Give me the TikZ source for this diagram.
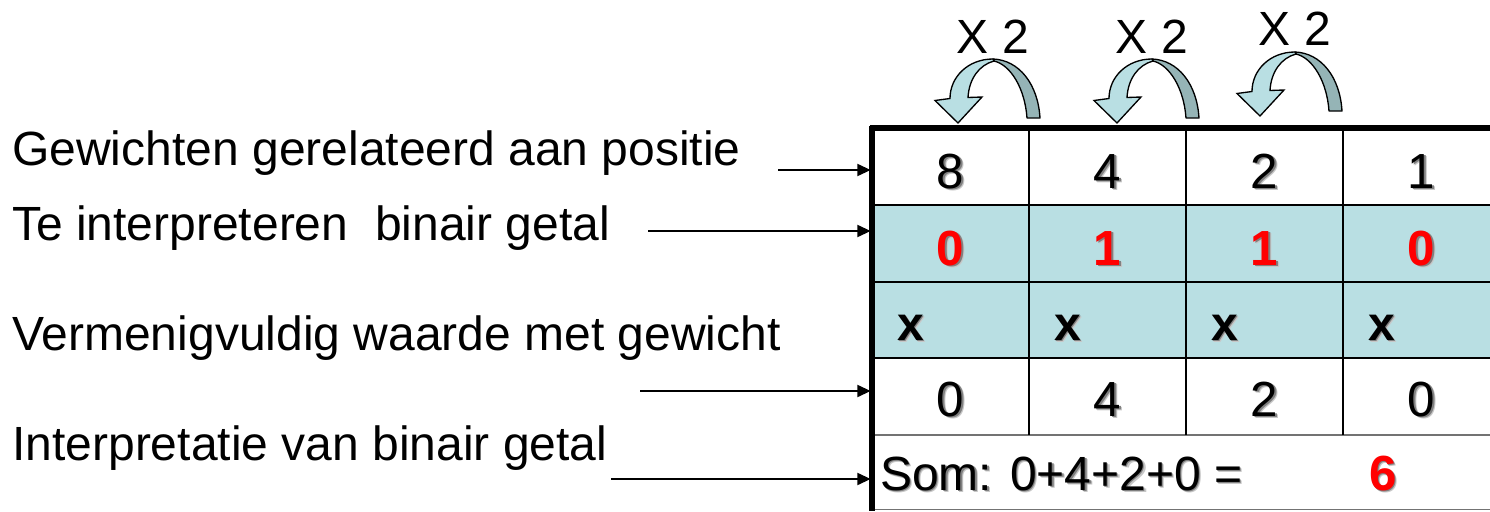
\documentclass[tikz,border=0pt]{standalone}
\usepackage{fontspec}
\setmainfont{Liberation Sans}
\usetikzlibrary{arrows.meta}
\definecolor{cellblue}{RGB}{185,223,227}
\definecolor{backteal}{RGB}{149,180,182}
\definecolor{redtxt}{RGB}{255,0,0}
\newcommand\shd[1]{\rlap{\kern2pt\raisebox{-2pt}{\textcolor{black!22}{#1}}}\rlap{\kern1pt\raisebox{-1pt}{\textcolor{black!50}{#1}}}#1}
\tikzset{
  curvarrow/.pic={
    \filldraw[fill=backteal, draw=black, line width=1pt, line join=round]
      (0,0) .. controls (26,1) and (45,25) .. (47,59) -- (34,59)
      .. controls (32,30) and (18,6) .. (1,2) -- cycle;
    \filldraw[fill=cellblue, draw=black, line width=1pt, line join=miter]
      (0,0) .. controls (-25,0) and (-43,18) .. (-43,39.5) -- (-58,41.5) -- (-35,64)
      -- (-11,38) -- (-25,38.5) .. controls (-24,20) and (-14,6) .. (1,2) -- cycle;
  }
}
\begin{document}
\begin{tikzpicture}[x=0.75pt,y=-0.75pt,
  lbl/.style={anchor=base west, inner sep=0pt, font=\fontsize{36}{40}\selectfont},
  num/.style={anchor=base, inner sep=0pt, font=\fontsize{37}{40}\selectfont},
  xtwo/.style={anchor=base, inner sep=0pt, font=\fontsize{36}{40}\selectfont},
  bnum/.style={anchor=base, inner sep=0pt, font=\fontsize{37}{40}\selectfont\bfseries, text=redtxt},
  xlbl/.style={anchor=base west, inner sep=0pt, font=\fontsize{36}{40}\selectfont\bfseries},
  rowbox/.style={draw=none, inner sep=0pt, outer sep=0pt, minimum width=463.5pt},
  conn/.style={line width=1.5pt, -{Triangle[length=10pt,width=9pt]}, shorten >=1pt},
  thin/.style={line width=1.6pt},
  greyline/.style={line width=1.1pt, draw=black!55},
  thick/.style={line width=3.8pt}
]
\useasboundingbox (0,0) rectangle (1490,511);

% rows of the table
\node[rowbox, minimum height=57.75pt] (r1) at (1181,166.5) {};
\node[rowbox, minimum height=57.75pt, fill=cellblue] (r2) at (1181,243.5) {};
\node[rowbox, minimum height=57pt, fill=cellblue] (r3) at (1181,320) {};
\node[rowbox, minimum height=57.75pt] (r4) at (1181,396.5) {};
\node[rowbox, minimum height=57pt] (r5) at (1181,473) {};

% grid
\draw[thin] (872,205) -- (1490,205);
\draw[thin] (872,282) -- (1490,282);
\draw[thin] (872,358) -- (1490,358);
\draw[greyline] (872,435) -- (1490,435);
\draw[greyline] (872,509.5) -- (1490,509.5);
\foreach \xx in {1029,1186,1343} \draw[thin] (\xx,128) -- (\xx,435);
\draw[thick] (870,128) -- (1490,128);
\draw[thick] (872,126) -- (872,511);

% row 1
\node[num] (c11) at (950.5,188) {\shd{8}};
\node[num] (c12) at (1107.5,188) {\shd{4}};
\node[num] (c13) at (1264.5,188) {\shd{2}};
\node[num] (c14) at (1421.5,188) {\shd{1}};
% row 2
\node[bnum] (c21) at (950.5,265) {\shd{0}};
\node[bnum] (c22) at (1107.5,265) {\shd{1}};
\node[bnum] (c23) at (1264.5,265) {\shd{1}};
\node[bnum] (c24) at (1421.5,265) {\shd{0}};
% row 3
\node[xlbl] (c31) at (897,340) {\shd{x}};
\node[xlbl] (c32) at (1054,340) {\shd{x}};
\node[xlbl] (c33) at (1211,340) {\shd{x}};
\node[xlbl] (c34) at (1368,340) {\shd{x}};
% row 4
\node[num] (c41) at (950.5,416) {\shd{0}};
\node[num] (c42) at (1107.5,416) {\shd{4}};
\node[num] (c43) at (1264.5,416) {\shd{2}};
\node[num] (c44) at (1421.5,416) {\shd{0}};
% row 5
\node[lbl] (som) at (880,490) {\shd{Som: 0+4+2+0 =}};
\node[bnum] (res) at (1383,490) {\shd{6}};

% left labels
\node[lbl] (l1) at (12,165) {Gewichten gerelateerd aan positie};
\node[lbl] (l2) at (12,240) {Te interpreteren~ binair getal};
\node[lbl] (l3) at (12,350) {Vermenigvuldig waarde met gewicht};
\node[lbl] (l4) at (12,460) {Interpretatie van binair getal};

% connectors
\coordinate (a1) at (778,170);
\coordinate (a2) at (648,231);
\coordinate (a3) at (640,391);
\coordinate (a4) at (611,479);
\draw[conn] (a1) -- (a1 -| r1.west);
\draw[conn] (a2) -- (a2 -| r2.west);
\draw[conn] (a3) -- (a3 -| r4.west);
\draw[conn] (a4) -- (a4 -| r5.west);

% curved arrows and labels
\pic at (993,59) {curvarrow};
\pic at (1152,59) {curvarrow};
\pic at (1295,52) {curvarrow};
\node[xtwo] (x1) at (993,53) {X 2};
\node[xtwo] (x2) at (1152,53) {X 2};
\node[xtwo] (x3) at (1295,45) {X 2};
\end{tikzpicture}
\end{document}
